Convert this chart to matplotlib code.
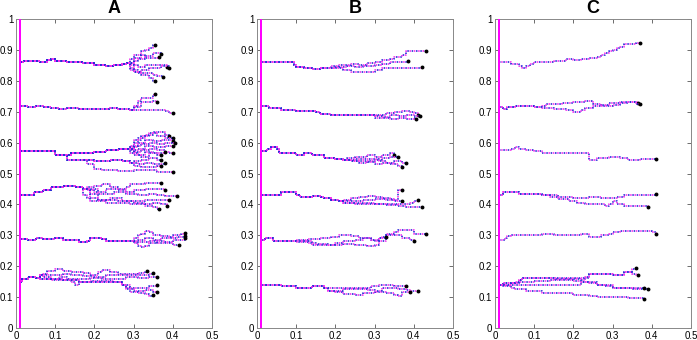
import matplotlib
matplotlib.use("Agg")
import matplotlib.pyplot as plt
from matplotlib.ticker import FuncFormatter

plt.rcParams['font.family'] = ['Liberation Sans', 'DejaVu Sans']

panel_titles = ["A", "B", "C"]
x_ticks = [0, 0.1, 0.2, 0.3, 0.4, 0.5]
y_ticks = [0, 0.1, 0.2, 0.3, 0.4, 0.5, 0.6, 0.7, 0.8, 0.9, 1]

# ---- panel A: (x, y) waypoints of step paths, trunk + branches ----
a86_trunk = [(0.01, 0.862), (0.02, 0.865), (0.06, 0.862), (0.08, 0.868), (0.09, 0.872), (0.10, 0.865),
             (0.13, 0.862), (0.17, 0.858), (0.20, 0.852), (0.23, 0.848), (0.25, 0.852), (0.27, 0.855), (0.28, 0.858)]
a86_branches = [
    [(0.29, 0.87), (0.30, 0.885), (0.32, 0.895), (0.33, 0.90), (0.34, 0.905), (0.35, 0.915), (0.355, 0.915)],
    [(0.30, 0.875), (0.32, 0.885), (0.33, 0.875), (0.35, 0.875), (0.365, 0.878)],
    [(0.30, 0.865), (0.31, 0.87), (0.33, 0.88), (0.35, 0.89), (0.37, 0.888)],
    [(0.29, 0.85), (0.31, 0.845), (0.33, 0.85), (0.36, 0.852), (0.385, 0.845)],
    [(0.29, 0.84), (0.30, 0.83), (0.32, 0.835), (0.34, 0.84), (0.37, 0.848), (0.39, 0.84)],
    [(0.29, 0.835), (0.31, 0.825), (0.33, 0.825), (0.35, 0.82), (0.36, 0.815), (0.375, 0.812)],
    [(0.30, 0.83), (0.32, 0.82), (0.34, 0.81), (0.35, 0.80), (0.355, 0.80)],
]
a71_trunk = [(0.01, 0.718), (0.03, 0.715), (0.05, 0.718), (0.07, 0.715), (0.09, 0.712), (0.11, 0.71),
             (0.13, 0.712), (0.16, 0.708), (0.20, 0.708), (0.24, 0.712), (0.26, 0.708), (0.29, 0.705)]
a71_branches = [
    [(0.30, 0.72), (0.31, 0.735), (0.32, 0.745), (0.34, 0.745), (0.35, 0.755), (0.355, 0.757)],
    [(0.30, 0.715), (0.32, 0.73), (0.34, 0.73), (0.35, 0.735), (0.36, 0.732)],
    [(0.31, 0.705), (0.35, 0.705), (0.38, 0.703), (0.39, 0.695), (0.40, 0.695)],
]
a57_trunk = [(0.01, 0.573), (0.095, 0.573), (0.10, 0.56), (0.13, 0.56), (0.14, 0.565), (0.18, 0.565),
             (0.20, 0.57), (0.23, 0.575), (0.26, 0.578), (0.28, 0.58)]
a57_branches = [
    [(0.29, 0.59), (0.30, 0.60), (0.31, 0.615), (0.33, 0.625), (0.35, 0.635), (0.37, 0.635), (0.38, 0.625), (0.39, 0.62)],
    [(0.30, 0.61), (0.32, 0.62), (0.34, 0.63), (0.36, 0.62), (0.38, 0.615), (0.40, 0.615)],
    [(0.29, 0.585), (0.31, 0.60), (0.33, 0.61), (0.35, 0.605), (0.37, 0.61), (0.40, 0.605)],
    [(0.30, 0.59), (0.32, 0.595), (0.34, 0.60), (0.36, 0.595), (0.38, 0.60), (0.405, 0.598)],
    [(0.29, 0.575), (0.31, 0.58), (0.33, 0.59), (0.35, 0.585), (0.38, 0.59), (0.40, 0.59)],
    [(0.30, 0.57), (0.32, 0.575), (0.34, 0.58), (0.36, 0.575), (0.38, 0.57), (0.39, 0.565), (0.40, 0.565)],
    [(0.29, 0.565), (0.31, 0.56), (0.33, 0.57), (0.35, 0.565), (0.37, 0.565), (0.38, 0.57)],
    [(0.30, 0.56), (0.32, 0.555), (0.34, 0.565), (0.36, 0.56), (0.37, 0.56)],
]
a54_trunk = [(0.12, 0.56), (0.13, 0.545), (0.16, 0.545), (0.20, 0.54), (0.24, 0.545), (0.27, 0.54), (0.29, 0.535)]
a54_branches = [
    [(0.30, 0.54), (0.32, 0.545), (0.34, 0.55), (0.36, 0.545), (0.37, 0.545)],
    [(0.31, 0.53), (0.33, 0.535), (0.35, 0.53), (0.37, 0.53), (0.38, 0.535)],
    [(0.30, 0.525), (0.32, 0.52), (0.34, 0.52), (0.36, 0.525), (0.37, 0.525)],
]
a51_trunk = [(0.17, 0.545), (0.18, 0.53), (0.20, 0.515), (0.22, 0.51), (0.26, 0.508), (0.30, 0.51),
             (0.33, 0.51), (0.36, 0.505), (0.40, 0.505)]
a51_branches = []
a43_trunk = [(0.01, 0.43), (0.04, 0.43), (0.045, 0.44), (0.07, 0.448), (0.09, 0.455), (0.12, 0.458),
             (0.15, 0.455), (0.17, 0.45)]
a43_branches = [
    [(0.18, 0.455), (0.20, 0.46), (0.22, 0.465), (0.24, 0.455), (0.26, 0.45), (0.28, 0.455), (0.29, 0.465), (0.33, 0.468), (0.37, 0.47)],
    [(0.18, 0.445), (0.20, 0.44), (0.23, 0.45), (0.26, 0.445), (0.28, 0.44), (0.30, 0.445), (0.33, 0.45), (0.35, 0.45), (0.38, 0.448)],
    [(0.19, 0.435), (0.22, 0.435), (0.25, 0.44), (0.28, 0.435), (0.31, 0.43), (0.34, 0.435), (0.36, 0.43), (0.38, 0.428), (0.41, 0.427)],
    [(0.17, 0.43), (0.18, 0.42), (0.21, 0.415), (0.24, 0.42), (0.27, 0.41), (0.30, 0.41), (0.33, 0.415), (0.36, 0.415), (0.39, 0.414)],
    [(0.19, 0.41), (0.23, 0.405), (0.26, 0.405), (0.29, 0.40), (0.32, 0.40), (0.35, 0.405), (0.37, 0.40), (0.385, 0.395)],
    [(0.21, 0.415), (0.26, 0.41), (0.30, 0.405), (0.33, 0.395), (0.35, 0.39), (0.36, 0.385), (0.365, 0.385)],
]
a28_trunk = [(0.01, 0.288), (0.03, 0.285), (0.05, 0.29), (0.07, 0.287), (0.10, 0.29), (0.12, 0.286),
             (0.15, 0.285), (0.16, 0.278), (0.18, 0.28), (0.19, 0.29), (0.22, 0.288), (0.23, 0.282),
             (0.26, 0.282), (0.29, 0.283)]
a28_branches = [
    [(0.30, 0.29), (0.31, 0.30), (0.32, 0.305), (0.33, 0.315), (0.34, 0.31), (0.35, 0.30), (0.37, 0.298), (0.39, 0.295), (0.40, 0.30), (0.42, 0.305), (0.43, 0.307)],
    [(0.31, 0.285), (0.33, 0.29), (0.35, 0.285), (0.37, 0.29), (0.39, 0.292), (0.41, 0.295), (0.43, 0.297)],
    [(0.30, 0.275), (0.31, 0.265), (0.32, 0.262), (0.33, 0.265), (0.34, 0.275), (0.36, 0.28), (0.38, 0.278), (0.40, 0.285), (0.43, 0.29)],
    [(0.30, 0.278), (0.34, 0.28), (0.36, 0.275), (0.38, 0.275), (0.40, 0.27), (0.415, 0.268)],
]
a15_trunk = [(0.01, 0.148), (0.015, 0.16), (0.03, 0.165), (0.05, 0.162), (0.06, 0.17)]
a15_branches = [
    [(0.07, 0.175), (0.08, 0.185), (0.10, 0.19), (0.12, 0.185), (0.14, 0.18), (0.17, 0.178), (0.19, 0.17), (0.21, 0.18), (0.22, 0.188), (0.24, 0.18), (0.26, 0.175), (0.29, 0.175), (0.31, 0.178), (0.33, 0.18), (0.335, 0.184)],
    [(0.08, 0.17), (0.10, 0.172), (0.12, 0.175), (0.14, 0.17), (0.17, 0.168), (0.20, 0.165), (0.23, 0.17), (0.26, 0.172), (0.29, 0.17), (0.32, 0.172), (0.34, 0.175), (0.35, 0.178)],
    [(0.07, 0.165), (0.09, 0.16), (0.11, 0.165), (0.13, 0.158), (0.16, 0.16), (0.19, 0.162), (0.22, 0.16), (0.25, 0.16), (0.28, 0.165), (0.31, 0.162), (0.34, 0.165), (0.36, 0.165)],
    [(0.06, 0.16), (0.09, 0.155), (0.12, 0.155), (0.14, 0.15), (0.15, 0.14), (0.16, 0.15), (0.19, 0.152), (0.22, 0.152), (0.25, 0.15), (0.27, 0.14), (0.28, 0.13), (0.31, 0.13), (0.34, 0.135), (0.36, 0.138)],
    [(0.06, 0.16), (0.12, 0.155), (0.16, 0.15), (0.25, 0.15), (0.27, 0.14), (0.28, 0.125), (0.30, 0.12), (0.33, 0.122), (0.35, 0.118), (0.36, 0.117)],
    [(0.06, 0.16), (0.12, 0.155), (0.16, 0.15), (0.25, 0.15), (0.27, 0.14), (0.29, 0.118), (0.31, 0.112), (0.33, 0.11), (0.34, 0.105), (0.35, 0.108)],
]

# ---- panel B ----
b86_trunk = [(0.01, 0.862), (0.09, 0.862), (0.095, 0.852), (0.10, 0.845), (0.12, 0.842), (0.14, 0.838),
             (0.16, 0.84), (0.18, 0.842)]
b86_branches = [
    [(0.19, 0.848), (0.21, 0.852), (0.24, 0.855), (0.26, 0.852), (0.28, 0.858), (0.30, 0.862), (0.32, 0.868), (0.34, 0.87), (0.35, 0.878), (0.37, 0.882), (0.38, 0.895), (0.43, 0.895)],
    [(0.20, 0.845), (0.23, 0.848), (0.25, 0.845), (0.27, 0.848), (0.30, 0.85), (0.32, 0.855), (0.34, 0.86), (0.36, 0.862), (0.385, 0.864)],
    [(0.19, 0.84), (0.22, 0.835), (0.24, 0.83), (0.26, 0.83), (0.28, 0.828), (0.30, 0.835), (0.32, 0.84), (0.35, 0.842), (0.38, 0.84), (0.40, 0.842), (0.42, 0.845)],
]
b71_trunk = [(0.01, 0.718), (0.03, 0.712), (0.06, 0.705), (0.10, 0.703), (0.13, 0.702), (0.15, 0.70),
             (0.16, 0.692), (0.19, 0.69), (0.22, 0.688), (0.26, 0.688), (0.28, 0.69)]
b71_branches = [
    [(0.29, 0.688), (0.31, 0.69), (0.33, 0.695), (0.35, 0.70), (0.37, 0.702), (0.39, 0.70), (0.40, 0.695), (0.41, 0.69)],
    [(0.30, 0.685), (0.32, 0.682), (0.34, 0.688), (0.36, 0.685), (0.38, 0.69), (0.40, 0.685), (0.415, 0.685)],
    [(0.30, 0.68), (0.32, 0.68), (0.34, 0.675), (0.36, 0.68), (0.38, 0.675), (0.40, 0.68), (0.405, 0.675)],
]
b57_trunk = [(0.01, 0.573), (0.025, 0.58), (0.035, 0.585), (0.05, 0.578), (0.055, 0.565), (0.08, 0.565),
             (0.10, 0.56), (0.12, 0.565), (0.14, 0.56), (0.17, 0.55), (0.20, 0.548), (0.22, 0.545)]
b57_branches = [
    [(0.23, 0.55), (0.25, 0.555), (0.28, 0.56), (0.30, 0.555), (0.32, 0.56), (0.34, 0.565), (0.35, 0.56)],
    [(0.24, 0.54), (0.26, 0.535), (0.28, 0.54), (0.30, 0.545), (0.32, 0.55), (0.34, 0.555), (0.36, 0.552)],
    [(0.25, 0.548), (0.28, 0.548), (0.31, 0.54), (0.33, 0.535), (0.35, 0.54), (0.37, 0.535), (0.38, 0.535)],
    [(0.24, 0.54), (0.28, 0.538), (0.30, 0.53), (0.32, 0.535), (0.34, 0.53), (0.36, 0.525), (0.37, 0.52)],
]
b43_trunk = [(0.01, 0.43), (0.05, 0.432), (0.06, 0.44), (0.09, 0.44), (0.10, 0.432), (0.11, 0.425),
             (0.14, 0.428), (0.16, 0.425), (0.17, 0.42), (0.19, 0.415), (0.21, 0.41)]
b43_branches = [
    [(0.22, 0.415), (0.24, 0.42), (0.26, 0.425), (0.28, 0.428), (0.30, 0.425), (0.32, 0.42), (0.34, 0.418), (0.35, 0.415), (0.36, 0.445), (0.37, 0.445)],
    [(0.24, 0.41), (0.27, 0.415), (0.30, 0.418), (0.33, 0.415), (0.35, 0.412), (0.37, 0.412)],
    [(0.22, 0.405), (0.25, 0.40), (0.28, 0.402), (0.31, 0.40), (0.34, 0.40), (0.36, 0.402), (0.38, 0.40), (0.39, 0.405), (0.40, 0.41), (0.41, 0.415)],
    [(0.22, 0.405), (0.30, 0.40), (0.33, 0.398), (0.36, 0.395), (0.38, 0.39), (0.40, 0.39), (0.42, 0.39)],
]
b28_trunk = [(0.01, 0.285), (0.02, 0.29), (0.04, 0.28), (0.07, 0.282), (0.09, 0.28)]
b28_branches = [
    [(0.10, 0.285), (0.13, 0.288), (0.16, 0.29), (0.19, 0.295), (0.21, 0.30), (0.24, 0.298), (0.26, 0.29), (0.29, 0.285), (0.30, 0.28), (0.31, 0.29), (0.32, 0.295), (0.33, 0.305), (0.35, 0.31), (0.36, 0.318), (0.39, 0.318), (0.40, 0.305), (0.43, 0.305)],
    [(0.10, 0.278), (0.13, 0.275), (0.15, 0.272), (0.18, 0.27), (0.20, 0.275), (0.22, 0.28), (0.25, 0.285), (0.27, 0.29), (0.29, 0.285), (0.31, 0.29), (0.33, 0.30), (0.35, 0.30), (0.37, 0.29), (0.39, 0.285), (0.40, 0.28)],
    [(0.14, 0.27), (0.17, 0.268), (0.20, 0.27), (0.22, 0.272), (0.25, 0.268), (0.28, 0.265), (0.30, 0.27), (0.31, 0.28), (0.33, 0.295)],
]
b14_trunk = [(0.01, 0.14), (0.05, 0.14), (0.06, 0.135), (0.09, 0.135), (0.10, 0.13), (0.13, 0.13),
             (0.14, 0.135), (0.16, 0.135), (0.17, 0.13)]
b14_branches = [
    [(0.18, 0.128), (0.21, 0.13), (0.24, 0.13), (0.27, 0.13), (0.29, 0.135), (0.31, 0.14), (0.33, 0.14), (0.35, 0.135), (0.38, 0.135)],
    [(0.18, 0.12), (0.20, 0.115), (0.22, 0.11), (0.25, 0.108), (0.27, 0.112), (0.30, 0.115), (0.33, 0.112), (0.35, 0.108), (0.36, 0.105), (0.37, 0.118), (0.39, 0.12), (0.41, 0.12)],
    [(0.18, 0.12), (0.22, 0.125), (0.25, 0.125), (0.28, 0.122), (0.30, 0.12), (0.32, 0.128), (0.34, 0.13), (0.36, 0.125), (0.38, 0.122), (0.39, 0.118)],
]

# ---- panel C ----
c86_trunk = [(0.01, 0.86), (0.04, 0.855), (0.06, 0.848), (0.07, 0.842), (0.08, 0.848), (0.09, 0.855),
             (0.10, 0.86), (0.13, 0.862), (0.15, 0.865), (0.18, 0.87), (0.20, 0.868), (0.22, 0.872),
             (0.24, 0.875), (0.26, 0.878), (0.27, 0.885), (0.28, 0.89), (0.29, 0.895), (0.30, 0.90),
             (0.31, 0.905), (0.32, 0.91), (0.33, 0.92), (0.36, 0.922), (0.37, 0.922)]
c86_branches = []
c71_trunk = [(0.01, 0.715), (0.02, 0.71), (0.03, 0.715), (0.05, 0.72), (0.09, 0.718), (0.10, 0.715), (0.11, 0.715)]
c71_branches = [
    [(0.12, 0.72), (0.13, 0.725), (0.17, 0.728), (0.20, 0.73), (0.23, 0.735), (0.25, 0.725), (0.27, 0.72), (0.30, 0.722), (0.32, 0.728), (0.34, 0.732), (0.36, 0.73), (0.365, 0.728)],
    [(0.12, 0.712), (0.15, 0.708), (0.18, 0.705), (0.20, 0.70), (0.22, 0.705), (0.23, 0.712), (0.25, 0.718), (0.27, 0.722), (0.29, 0.728), (0.32, 0.732), (0.34, 0.73), (0.36, 0.725), (0.37, 0.725)],
]
c57_trunk = [(0.01, 0.575), (0.04, 0.578), (0.05, 0.585), (0.06, 0.58), (0.08, 0.575), (0.10, 0.572),
             (0.12, 0.565), (0.23, 0.565), (0.24, 0.545), (0.26, 0.55), (0.29, 0.552), (0.30, 0.555),
             (0.32, 0.55), (0.34, 0.545), (0.37, 0.548), (0.41, 0.548)]
c57_branches = []
c43_trunk = [(0.01, 0.43), (0.02, 0.44), (0.05, 0.44), (0.06, 0.435), (0.10, 0.435), (0.12, 0.432)]
c43_branches = [
    [(0.13, 0.43), (0.16, 0.425), (0.20, 0.42), (0.24, 0.425), (0.27, 0.422), (0.29, 0.42), (0.31, 0.425), (0.33, 0.43), (0.36, 0.432), (0.41, 0.433)],
    [(0.14, 0.425), (0.16, 0.418), (0.19, 0.41), (0.21, 0.405), (0.23, 0.40), (0.26, 0.40), (0.28, 0.395), (0.29, 0.40), (0.30, 0.41), (0.31, 0.40), (0.33, 0.395), (0.36, 0.395), (0.39, 0.393)],
]
c28_trunk = [(0.01, 0.285), (0.025, 0.29), (0.03, 0.298), (0.04, 0.30), (0.10, 0.30), (0.12, 0.305),
             (0.14, 0.305), (0.15, 0.30), (0.21, 0.30), (0.22, 0.305), (0.24, 0.295), (0.26, 0.295),
             (0.27, 0.30), (0.29, 0.305), (0.30, 0.31), (0.32, 0.315), (0.39, 0.315), (0.40, 0.31), (0.41, 0.305)]
c28_branches = []
c14_trunk = [(0.01, 0.14)]
c14_branches = [
    [(0.02, 0.145), (0.05, 0.145), (0.06, 0.155), (0.07, 0.162), (0.12, 0.162), (0.15, 0.16), (0.20, 0.158), (0.22, 0.155), (0.23, 0.165), (0.24, 0.175), (0.28, 0.175), (0.30, 0.17), (0.32, 0.172), (0.33, 0.18), (0.35, 0.19), (0.36, 0.195)],
    [(0.02, 0.145), (0.06, 0.155), (0.07, 0.162), (0.23, 0.162), (0.24, 0.175), (0.30, 0.17), (0.33, 0.18), (0.35, 0.175), (0.36, 0.17), (0.365, 0.17)],
    [(0.02, 0.14), (0.04, 0.145), (0.05, 0.15), (0.10, 0.152), (0.14, 0.155), (0.20, 0.152), (0.22, 0.148), (0.24, 0.145), (0.26, 0.14), (0.28, 0.135), (0.30, 0.13), (0.34, 0.13), (0.35, 0.125), (0.39, 0.125)],
    [(0.02, 0.14), (0.22, 0.148), (0.26, 0.14), (0.30, 0.13), (0.35, 0.128), (0.38, 0.13)],
    [(0.02, 0.135), (0.04, 0.13), (0.05, 0.125), (0.08, 0.12), (0.10, 0.12), (0.12, 0.112), (0.15, 0.112), (0.20, 0.108), (0.24, 0.105), (0.26, 0.10), (0.32, 0.10), (0.34, 0.098), (0.38, 0.095)],
]

panel_A = [(a86_trunk, a86_branches), (a71_trunk, a71_branches), (a57_trunk, a57_branches),
           (a54_trunk, a54_branches), (a51_trunk, a51_branches), (a43_trunk, a43_branches),
           (a28_trunk, a28_branches), (a15_trunk, a15_branches)]
panel_B = [(b86_trunk, b86_branches), (b71_trunk, b71_branches), (b57_trunk, b57_branches),
           (b43_trunk, b43_branches), (b28_trunk, b28_branches), (b14_trunk, b14_branches)]
panel_C = [(c86_trunk, c86_branches), (c71_trunk, c71_branches), (c57_trunk, c57_branches),
           (c43_trunk, c43_branches), (c28_trunk, c28_branches), (c14_trunk, c14_branches)]

BLUE = '#2a2ad8'
MAGENTA = '#f030f0'


def draw_path(ax, pts):
    xs = [p[0] for p in pts]
    ys = [p[1] for p in pts]
    # alternating blue / magenta dots
    ax.plot(xs, ys, drawstyle='steps-post', color=BLUE, lw=1.2,
            linestyle=(0, (0.9, 1.7)), dash_capstyle='butt')
    ax.plot(xs, ys, drawstyle='steps-post', color=MAGENTA, lw=1.2,
            linestyle=(1.3, (0.9, 1.7)), dash_capstyle='butt')
    ax.plot(xs[-1], ys[-1], 'o', color='black', ms=2.8, mew=0)


fig = plt.figure(figsize=(6.97, 3.4), dpi=100)
lefts = [16, 257, 495]
for i, (title, groups) in enumerate(zip(panel_titles, [panel_A, panel_B, panel_C])):
    ax = fig.add_axes([lefts[i] / 697, 12 / 340, 196 / 697, 309 / 340])
    ax.axvspan(0.0075, 0.0135, color='#ff00ff', lw=0, zorder=5)
    for trunk, branches in groups:
        if not branches:
            draw_path(ax, trunk)
        for br in branches:
            draw_path(ax, trunk + br)
    ax.set_xlim(0, 0.5)
    ax.set_ylim(0, 1)
    ax.set_xticks(x_ticks)
    ax.set_yticks(y_ticks)
    fmt = FuncFormatter(lambda v, pos: f"{v:g}")
    ax.xaxis.set_major_formatter(fmt)
    ax.yaxis.set_major_formatter(fmt)
    ax.tick_params(direction='in', top=True, right=True, labelsize=7, length=3,
                   width=0.6, color='#555555', pad=2)
    for s in ax.spines.values():
        s.set_color('#888888')
        s.set_linewidth(0.7)
    ax.set_title(title, fontsize=13, fontweight='bold', pad=4)

fig.savefig("out.png", dpi=100)
